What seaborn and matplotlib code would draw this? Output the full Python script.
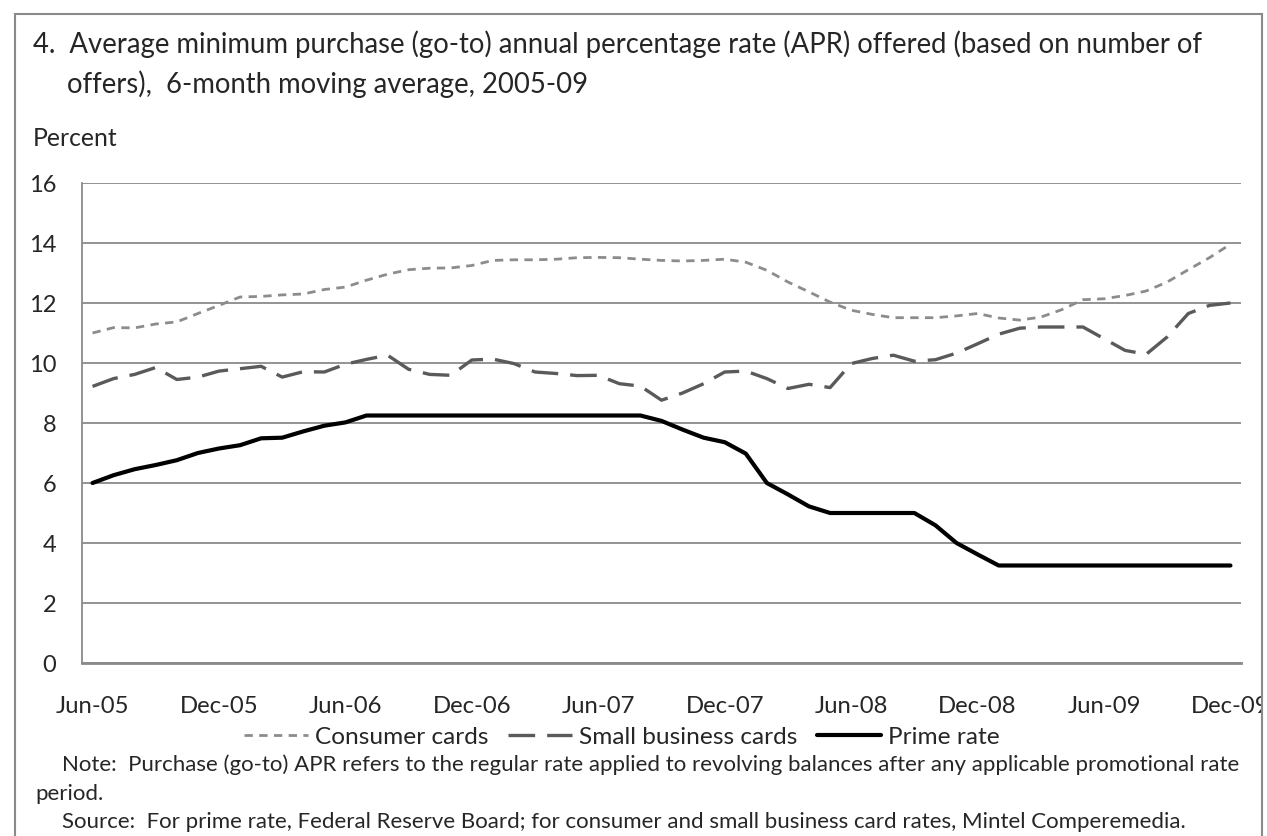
import numpy as np
import pandas as pd
import matplotlib
matplotlib.use('Agg')
import matplotlib.pyplot as plt
import seaborn as sns
from matplotlib.patches import Rectangle
from matplotlib.lines import Line2D
from matplotlib.transforms import Bbox, TransformedBbox

# Monthly data, Jun-05 .. Dec-09 (55 months)
consumer_cards = [11.00, 11.18, 11.17, 11.30, 11.37, 11.65, 11.92, 12.20, 12.22, 12.27,
                  12.30, 12.45, 12.53, 12.76, 12.96, 13.11, 13.16, 13.17, 13.25, 13.42,
                  13.44, 13.44, 13.46, 13.51, 13.52, 13.51, 13.46, 13.42, 13.40, 13.42,
                  13.46, 13.36, 13.09, 12.70, 12.37, 12.03, 11.76, 11.62, 11.51, 11.51,
                  11.51, 11.57, 11.65, 11.50, 11.43, 11.53, 11.78, 12.11, 12.14, 12.25,
                  12.40, 12.70, 13.11, 13.51, 13.96]
small_business_cards = [9.22, 9.48, 9.62, 9.85, 9.45, 9.53, 9.73, 9.81, 9.89, 9.53,
                        9.71, 9.70, 9.96, 10.12, 10.26, 9.79, 9.62, 9.59, 10.10, 10.13,
                        9.98, 9.70, 9.65, 9.58, 9.59, 9.31, 9.23, 8.76, 9.00, 9.31,
                        9.70, 9.73, 9.48, 9.15, 9.29, 9.18, 9.98, 10.15, 10.26, 10.06,
                        10.11, 10.33, 10.64, 10.96, 11.16, 11.20, 11.20, 11.20, 10.81, 10.42,
                        10.29, 10.87, 11.65, 11.92, 12.00]
prime_rate = [6.00, 6.26, 6.46, 6.60, 6.76, 7.00, 7.15, 7.26, 7.49, 7.51,
              7.72, 7.91, 8.02, 8.25, 8.25, 8.25, 8.25, 8.25, 8.25, 8.25,
              8.25, 8.25, 8.25, 8.25, 8.25, 8.25, 8.25, 8.07, 7.78, 7.51,
              7.36, 6.98, 6.00, 5.62, 5.22, 5.00, 5.00, 5.00, 5.00, 5.00,
              4.59, 4.00, 3.62, 3.25, 3.25, 3.25, 3.25, 3.25, 3.25, 3.25,
              3.25, 3.25, 3.25, 3.25, 3.25]
tick_labels = ['Jun-05', 'Dec-05', 'Jun-06', 'Dec-06', 'Jun-07',
               'Dec-07', 'Jun-08', 'Dec-08', 'Jun-09', 'Dec-09']
series_names = ['Consumer cards', 'Small business cards', 'Prime rate']

# Long-form table for seaborn
month = np.arange(len(prime_rate))
df = pd.DataFrame({
    'month': np.tile(month, 3),
    'rate': consumer_cards + small_business_cards + prime_rate,
    'series': np.repeat(series_names, len(month)),
})

sns.set_style('white')
plt.rcParams['font.family'] = ['Lato', 'DejaVu Sans']
grid_col = '#8a8a8a'
W, H = 1267, 836

fig = plt.figure(figsize=(12.67, 8.36), dpi=100)
ax = fig.add_axes([82 / W, 1 - 663 / H, (1241 - 82) / W, (663 - 183) / H])

palette = {'Consumer cards': '#8c8c8c', 'Small business cards': '#5a5a5a', 'Prime rate': '#000000'}
dashes = {'Consumer cards': (3.0, 2.3), 'Small business cards': (8.0, 3.6), 'Prime rate': ''}
sizes = {'Consumer cards': 2.0, 'Small business cards': 2.4, 'Prime rate': 3.0}
sns.lineplot(data=df, x='month', y='rate', hue='series', style='series', size='series',
             palette=palette, dashes=dashes, sizes=sizes, hue_order=series_names,
             style_order=series_names, size_order=series_names, legend=False, ax=ax)

# Axes
ax.set_xlim(-0.5, len(month) - 0.5)
ax.set_ylim(0, 16)
ax.set_yticks(np.arange(0, 17, 2))
ax.yaxis.grid(True, color=grid_col, linewidth=1.3)
ax.set_axisbelow(True)
ax.set_xlabel('')
ax.set_ylabel('')
for s in ['top', 'right']:
    ax.spines[s].set_visible(False)
ax.spines['left'].set_color(grid_col)
ax.spines['left'].set_linewidth(1.3)
ax.spines['bottom'].set_color(grid_col)
ax.spines['bottom'].set_linewidth(2)
ax.tick_params(axis='y', length=6.5, width=1.3, color=grid_col, labelsize=17, pad=12)

ax.set_xticks(np.arange(0, len(month), 6))
ax.set_xticklabels(tick_labels)
ax.set_xticks(np.arange(-0.5, len(month), 6), minor=True)
ax.tick_params(axis='x', which='major', length=0, labelsize=17.2, pad=24)
ax.tick_params(axis='x', which='minor', length=6, width=1.3, color=grid_col, direction='out')

# clip the last label at the frame, like the original
clip = TransformedBbox(Bbox([[0, 0], [1261 / W, 1]]), fig.transFigure)
for lbl in ax.get_xticklabels():
    lbl.set_clip_box(clip)
    lbl.set_clip_on(True)

# Legend
handles = [Line2D([], [], color=l.get_color(), linewidth=l.get_linewidth()) for l in ax.lines[:3]]
handles[0].set_dashes((3.0, 2.3))
handles[1].set_dashes((8.0, 3.6))
fig.legend(handles, series_names, loc='center', bbox_to_anchor=(622 / W, 1 - 737 / H),
           ncol=3, frameon=False, fontsize=17.6, handlelength=2.6, handletextpad=0.3,
           columnspacing=0.8, borderpad=0)

# Texts
fig.text(33 / W, 1 - 53 / H,
         '4.  Average minimum purchase (go-to) annual percentage rate (APR) offered (based on number of',
         fontsize=19.8, va='baseline', ha='left')
fig.text(67 / W, 1 - 93 / H, 'offers),  6-month moving average, 2005-09',
         fontsize=19.8, va='baseline', ha='left')
fig.text(33 / W, 1 - 146 / H, 'Percent', fontsize=17.8, va='baseline', ha='left')
fig.text(62 / W, 1 - 771 / H,
         'Note:  Purchase (go-to) APR refers to the regular rate applied to revolving balances after any applicable promotional rate',
         fontsize=16.0, va='baseline', ha='left')
fig.text(35 / W, 1 - 800 / H, 'period.', fontsize=16.0, va='baseline', ha='left')
fig.text(62 / W, 1 - 828 / H,
         'Source:  For prime rate, Federal Reserve Board; for consumer and small business card rates, Mintel Comperemedia.',
         fontsize=16.0, va='baseline', ha='left')

# outer frame
fig.patches.append(Rectangle((15 / W, -0.01), (1262 - 15) / W, 1 - 14 / H + 0.01,
                             transform=fig.transFigure, fill=False, edgecolor='#8a8a8a',
                             linewidth=1.5))

fig.savefig('out.png', dpi=100)
